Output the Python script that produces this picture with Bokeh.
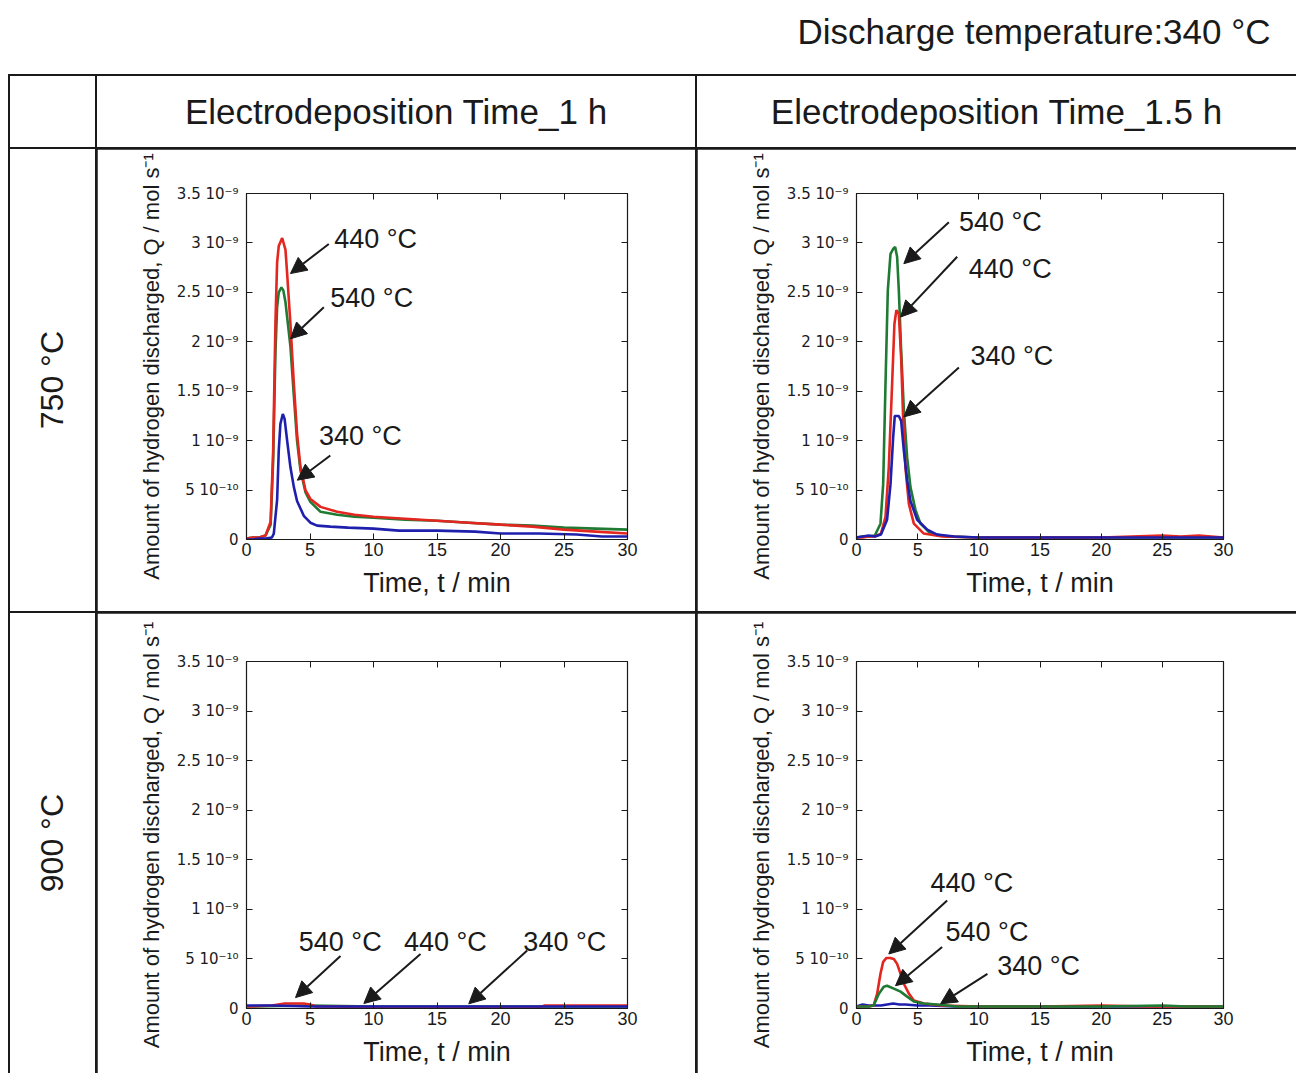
from bokeh.plotting import figure
from bokeh.models import (Range1d, FixedTicker, LinearAxis, Label, Arrow, NormalHead,
                          GridBox, CustomJSTickFormatter, Div)
from bokeh.layouts import column
from bokeh.embed import file_html
from bokeh.resources import INLINE

FONT = "Liberation Sans"
TICK_FONT = "DejaVu Sans"
INK = "#1a1a1a"
RED = "#e3261f"
GREEN = "#1f7a33"
BLUE = "#1f1fae"

# ---------------- text ----------------
title_text = "Discharge temperature:340 °C"
col_headers = ["Electrodeposition Time_1 h", "Electrodeposition Time_1.5 h"]
row_headers = ["750 °C", "900 °C"]
x_label = "Time, t / min"
y_label = "Amount of hydrogen discharged, Q / mol s⁻¹"

x_ticks = [0, 5, 10, 15, 20, 25, 30]
y_ticks = [0, 0.5, 1, 1.5, 2, 2.5, 3, 3.5]          # units of 1e-9 mol/s
y_tick_labels = ["0", "5 10⁻¹⁰", "1 10⁻⁹", "1.5 10⁻⁹", "2 10⁻⁹",
                 "2.5 10⁻⁹", "3 10⁻⁹", "3.5 10⁻⁹"]

# ---------------- data (Q in 1e-9 mol/s, t in min) ----------------
# 750 °C, 1 h
t_a_440 = [0.0, 0.5, 1.0, 1.5, 1.9, 2.1, 2.28, 2.41, 2.54, 2.81, 3.07, 3.2, 3.46, 3.73, 3.98,
           4.25, 4.64, 5.03, 5.83, 7.14, 8.5, 10.0, 12.5, 15.0, 17.5, 20.0, 22.5, 25.0, 27.5, 30.0]
q_a_440 = [0.01, 0.02, 0.02, 0.04, 0.18, 0.9, 2.2, 2.8, 2.97, 3.05, 2.93, 2.69, 2.18, 1.57, 1.07,
           0.73, 0.5, 0.41, 0.33, 0.28, 0.25, 0.23, 0.21, 0.19, 0.17, 0.15, 0.13, 0.1, 0.08, 0.06]
t_a_540 = [0.0, 0.5, 1.0, 1.5, 1.9, 2.1, 2.28, 2.41, 2.54, 2.75, 2.9, 3.07, 3.2, 3.46, 3.73, 3.98,
           4.25, 4.64, 5.03, 5.83, 7.14, 8.5, 10.0, 12.5, 15.0, 17.5, 20.0, 22.5, 25.0, 27.5, 30.0]
q_a_540 = [0.01, 0.02, 0.02, 0.04, 0.15, 0.8, 1.9, 2.35, 2.5, 2.55, 2.52, 2.4, 2.25, 1.95, 1.45, 1.0,
           0.7, 0.48, 0.38, 0.28, 0.25, 0.23, 0.22, 0.2, 0.19, 0.17, 0.15, 0.14, 0.12, 0.11, 0.1]
t_a_340 = [0.0, 0.5, 1.0, 1.5, 2.0, 2.15, 2.41, 2.54, 2.67, 2.86, 3.0, 3.2, 3.46, 3.73, 3.98, 4.51,
           5.03, 5.56, 6.61, 8.0, 10.0, 12.0, 15.0, 18.0, 20.0, 23.0, 26.0, 28.0, 30.0]
q_a_340 = [0.0, 0.0, 0.01, 0.01, 0.02, 0.06, 0.4, 0.9, 1.17, 1.27, 1.22, 1.0, 0.73, 0.53, 0.39, 0.24,
           0.17, 0.14, 0.13, 0.12, 0.11, 0.09, 0.09, 0.08, 0.06, 0.06, 0.05, 0.03, 0.03]

# 750 °C, 1.5 h
t_b_540 = [0.0, 0.5, 1.0, 1.5, 1.96, 2.18, 2.37, 2.56, 2.78, 3.0, 3.16, 3.32, 3.46, 3.65, 3.87,
           4.14, 4.41, 4.82, 5.23, 6.05, 7.41, 10.0, 15.0, 20.0, 25.0, 30.0]
q_b_540 = [0.02, 0.03, 0.03, 0.04, 0.16, 0.56, 1.57, 2.52, 2.89, 2.94, 2.96, 2.86, 2.52, 1.91, 1.31,
           0.83, 0.53, 0.3, 0.16, 0.06, 0.03, 0.02, 0.02, 0.02, 0.02, 0.02]
t_b_440 = [0.0, 0.5, 1.0, 1.5, 2.0, 2.37, 2.64, 2.91, 3.1, 3.26, 3.46, 3.65, 3.81, 4.0, 4.28, 4.69,
           5.5, 7.0, 10.0, 15.0, 20.0, 25.0, 26.5, 28.0, 30.0]
q_b_440 = [0.02, 0.02, 0.03, 0.03, 0.06, 0.23, 0.73, 1.57, 2.18, 2.32, 2.28, 1.84, 1.24, 0.73, 0.36,
           0.16, 0.06, 0.03, 0.02, 0.02, 0.02, 0.04, 0.03, 0.04, 0.02]
t_b_340 = [0.0, 0.5, 1.0, 1.5, 2.0, 2.5, 2.78, 3.0, 3.13, 3.46, 3.65, 3.87, 4.14, 4.41, 4.96, 5.78,
           6.59, 8.0, 10.0, 15.0, 20.0, 25.0, 30.0]
q_b_340 = [0.02, 0.03, 0.04, 0.03, 0.05, 0.2, 0.56, 1.04, 1.25, 1.25, 1.2, 0.9, 0.6, 0.39, 0.2, 0.1,
           0.05, 0.03, 0.02, 0.02, 0.02, 0.02, 0.02]

# 900 °C, 1 h
t_c_540 = [0.0, 5.0, 10.0, 15.0, 20.0, 25.0, 30.0]
q_c_540 = [0.02, 0.03, 0.02, 0.02, 0.02, 0.02, 0.02]
t_c_440 = [0.0, 2.0, 2.5, 3.0, 3.5, 4.0, 4.5, 5.0, 5.5, 7.0, 10.0, 15.0, 20.0, 23.0, 23.5, 27.0, 30.0]
q_c_440 = [0.02, 0.03, 0.04, 0.05, 0.05, 0.05, 0.05, 0.04, 0.02, 0.02, 0.01, 0.01, 0.01, 0.01, 0.03,
           0.03, 0.03]
t_c_340 = [0.0, 2.0, 5.0, 7.0, 10.0, 15.0, 20.0, 25.0, 30.0]
q_c_340 = [0.03, 0.03, 0.02, 0.02, 0.02, 0.02, 0.02, 0.02, 0.02]

# 900 °C, 1.5 h
t_d_440 = [0.0, 0.5, 1.0, 1.4, 1.69, 1.96, 2.18, 2.45, 2.75, 3.05, 3.32, 3.6, 3.87, 4.28, 4.69, 5.5,
           7.0, 10.0, 15.0, 20.0, 24.0, 27.0, 30.0]
q_d_440 = [0.02, 0.02, 0.02, 0.03, 0.15, 0.35, 0.47, 0.51, 0.51, 0.5, 0.45, 0.35, 0.25, 0.15, 0.08,
           0.05, 0.03, 0.02, 0.02, 0.03, 0.02, 0.02, 0.02]
t_d_540 = [0.0, 0.5, 1.0, 1.4, 1.83, 2.23, 2.5, 3.05, 3.6, 4.14, 4.69, 5.5, 6.59, 8.22, 10.0, 15.0,
           20.0, 25.0, 27.0, 30.0]
q_d_540 = [0.02, 0.02, 0.02, 0.03, 0.15, 0.22, 0.23, 0.2, 0.17, 0.12, 0.07, 0.05, 0.04, 0.02, 0.02,
           0.02, 0.02, 0.03, 0.02, 0.02]
t_d_340 = [0.0, 0.5, 1.0, 2.0, 2.5, 3.0, 3.5, 4.0, 5.0, 6.0, 8.0, 10.0, 20.0, 30.0]
q_d_340 = [0.02, 0.04, 0.03, 0.03, 0.04, 0.05, 0.04, 0.04, 0.03, 0.03, 0.02, 0.02, 0.02, 0.02]

# annotations: (text, label x, label y, arrow tail x, tail y, tip x, tip y)
notes_a = [("440 °C", 6.9, 3.04, 6.48, 2.99, 3.46, 2.69),
           ("540 °C", 6.6, 2.44, 6.09, 2.35, 3.46, 2.03),
           ("340 °C", 5.7, 1.05, 6.6, 0.85, 4.0, 0.6)]
notes_b = [("540 °C", 8.37, 3.21, 7.55, 3.21, 3.87, 2.79),
           ("440 °C", 9.18, 2.74, 8.23, 2.86, 3.6, 2.25),
           ("340 °C", 9.32, 1.86, 8.37, 1.74, 3.87, 1.24)]
notes_c = [("540 °C", 4.12, 0.67, 7.4, 0.53, 3.86, 0.11),
           ("440 °C", 12.4, 0.67, 13.7, 0.55, 9.24, 0.05),
           ("340 °C", 21.8, 0.67, 22.1, 0.585, 17.5, 0.047)]
notes_d = [("440 °C", 6.05, 1.27, 7.41, 1.09, 2.64, 0.55),
           ("540 °C", 7.28, 0.77, 7.0, 0.62, 3.19, 0.23),
           ("340 °C", 11.5, 0.43, 10.7, 0.35, 6.87, 0.047)]


def blank_label(ax):
    ax.formatter = CustomJSTickFormatter(code="return ''")


def make_panel(w, h, bl, br, bt, bb, series, notes):
    p = figure(width=w, height=h, output_backend="svg", toolbar_location=None,
               x_range=Range1d(0, 30), y_range=Range1d(0, 3.5),
               min_border_left=bl, min_border_right=br, min_border_top=bt, min_border_bottom=bb,
               x_axis_label=x_label, y_axis_label=y_label)
    p.grid.visible = False
    p.outline_line_color = INK
    p.outline_line_width = 1.2
    p.background_fill_color = "white"
    p.border_fill_color = "white"

    for ax in p.xaxis:
        ax.ticker = FixedTicker(ticks=x_ticks)
        ax.major_label_text_font = FONT
        ax.major_label_text_font_size = "18px"
        ax.major_label_standoff = 3
        ax.axis_label_text_font_size = "27px"
        ax.axis_label_standoff = 9
    for ax in p.yaxis:
        ax.ticker = FixedTicker(ticks=y_ticks)
        ax.major_label_overrides = {k: v for k, v in zip(y_ticks, y_tick_labels)}
        ax.major_label_text_font = TICK_FONT
        ax.major_label_text_font_size = "15px"
        ax.major_label_standoff = 8
        ax.axis_label_text_font_size = "22px"
        ax.axis_label_standoff = 10
    for ax in p.axis:
        ax.major_tick_in = 6
        ax.major_tick_out = 0
        ax.minor_tick_line_color = None
        ax.axis_line_color = INK
        ax.major_tick_line_color = INK
        ax.axis_label_text_font = FONT
        ax.axis_label_text_font_style = "normal"
        ax.axis_label_text_color = INK
        ax.major_label_text_color = INK

    top = LinearAxis(ticker=FixedTicker(ticks=x_ticks), major_tick_in=6, major_tick_out=0,
                     minor_tick_line_color=None, axis_line_color=INK, major_tick_line_color=INK,
                     major_label_text_font_size="1px")
    blank_label(top)
    right = LinearAxis(ticker=FixedTicker(ticks=y_ticks), major_tick_in=6, major_tick_out=0,
                       minor_tick_line_color=None, axis_line_color=INK, major_tick_line_color=INK,
                       major_label_text_font_size="1px")
    blank_label(right)
    p.add_layout(top, "above")
    p.add_layout(right, "right")

    for t, q, color in series:
        p.line(t, q, line_color=color, line_width=2.6)

    for text, lx, ly, x0, y0, x1, y1 in notes:
        p.add_layout(Arrow(x_start=x0, y_start=y0, x_end=x1, y_end=y1, line_width=2,
                           line_color=INK,
                           end=NormalHead(size=16, fill_color=INK, line_color=INK)))
        p.add_layout(Label(x=lx, y=ly, text=text, text_font=FONT, text_font_size="27px",
                           text_color=INK, text_align="left", text_baseline="middle"))
    return p


def text_cell(w, h, text, size, vertical=False):
    inner_style = (f"width:{w}px;height:{h}px;display:flex;align-items:center;"
                   f"justify-content:center;font-family:'{FONT}';font-size:{size};"
                   f"color:{INK};background:white;white-space:nowrap;")
    if vertical:
        span = (f"<span style=\"display:inline-block;writing-mode:vertical-rl;"
                f"transform:rotate(180deg);\">{text}</span>")
    else:
        span = f"<span>{text}</span>"
    return Div(text=f"<div style=\"{inner_style}\">{span}</div>", width=w, height=h,
               styles={"background-color": "white", "margin": "0", "padding": "0"})


# widths / heights of table cells
C0, C1, C2 = 85, 598, 599
R0, R1, R2 = 71, 462, 460

title = figure(width=1296, height=74, output_backend="svg", toolbar_location=None,
               x_range=Range1d(0, 1296), y_range=Range1d(74, 0),
               x_axis_location=None, y_axis_location=None, min_border=0)
title.grid.visible = False
title.outline_line_color = None
title.add_layout(Label(x=1270, y=31, text=title_text, text_font=FONT, text_font_size="35px",
                       text_color=INK, text_align="right", text_baseline="middle"))

h0 = text_cell(C0, R0, "", "10px")
h1 = text_cell(C1, R0, col_headers[0], "35px")
h2 = text_cell(C2, R0, col_headers[1], "35px")
r1 = text_cell(C0, R1, row_headers[0], "32px", vertical=True)
r2 = text_cell(C0, R2, row_headers[1], "32px", vertical=True)

pa = make_panel(C1, R1, 149, 68, 44, 72,
                [(t_a_540, q_a_540, GREEN), (t_a_440, q_a_440, RED), (t_a_340, q_a_340, BLUE)],
                notes_a)
pb = make_panel(C2, R1, 159, 73, 44, 72,
                [(t_b_540, q_b_540, GREEN), (t_b_440, q_b_440, RED), (t_b_340, q_b_340, BLUE)],
                notes_b)
pc = make_panel(C1, R2, 149, 68, 48, 65,
                [(t_c_540, q_c_540, GREEN), (t_c_440, q_c_440, RED), (t_c_340, q_c_340, BLUE)],
                notes_c)
pd = make_panel(C2, R2, 159, 73, 48, 65,
                [(t_d_340, q_d_340, BLUE), (t_d_440, q_d_440, RED), (t_d_540, q_d_540, GREEN)],
                notes_d)

grid = GridBox(children=[(h0, 0, 0), (h1, 0, 1), (h2, 0, 2),
                         (r1, 1, 0), (pa, 1, 1), (pb, 1, 2),
                         (r2, 2, 0), (pc, 2, 1), (pd, 2, 2)],
               spacing=2, margin=(0, 0, 0, 8),
               styles={"background-color": INK, "padding": "2px 0px 0px 2px"})

page = column(title, grid, spacing=0)

with open("out.html", "w") as f:
    f.write(file_html(page, INLINE, title="Hydrogen discharge"))
